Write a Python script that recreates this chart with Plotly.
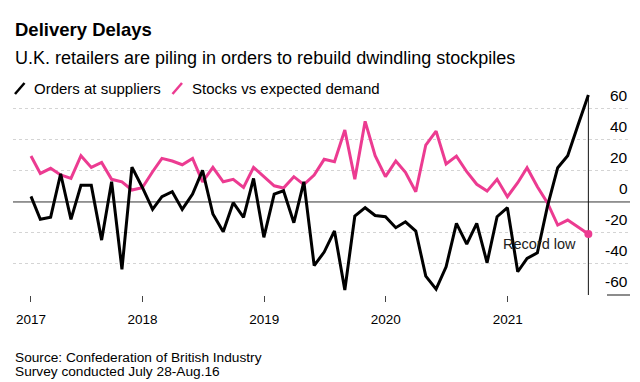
import pandas as pd
import plotly.graph_objects as go

# ---- data (monthly CBI balances, Jan 2017 - Aug 2021) ----
dates = pd.date_range("2017-01-31", periods=56, freq="ME")

orders_at_suppliers = [
    3.6, -11.2, -9.8, 18.2, -11.2, 10.7, 10.7, -24.6, 13, -43.4, 22.5, 9.5,
    -4.8, 3.4, 6.6, -4.8, 5.1, 20.4, -7.8, -19.2, -0.5, -9.9, 15.2, -22.8,
    5.1, 7.2, -13.4, 13, -41, -32.3, -18.7, -56.8, -9.1, -3.7, -8.7, -9.5,
    -16.6, -12.8, -18.8, -47.8, -56.2, -41.8, -13.8, -27.2, -13.8, -39.2, -9.5, -3.7,
    -45, -36.4, -32.8, -3, 22.1, 29.8, 49.6, 69,
]
stocks_vs_demand = [
    29.6, 18.4, 21.7, 17.4, 15.2, 29.8, 22.3, 25.5, 14.6, 13, 7.7, 9.2,
    19.5, 28.1, 26.4, 24, 28.1, 13, 22.3, 13, 14.6, 9.3, 22.3, 16.1,
    10.4, 9, 16.3, 11.2, 17.4, 27.5, 25.9, 46.4, 14.7, 52, 29.8, 16.3,
    26.4, 19.1, 6.6, 36.7, 45.7, 24.5, 29.6, 19.5, 11.4, 7, 14.6, 3.4,
    12.4, 22.1, 9.8, -0.5, -14.9, -11.7, -16.4, -20.7,
]
grid_values = [-40, -20, 20, 40, 60]
label_values = [60, 40, 20, 0, -20, -40, -60]
tick_dates = [dates[0], pd.Timestamp("2018-01-01"), pd.Timestamp("2019-01-01"),
              pd.Timestamp("2020-01-01"), pd.Timestamp("2021-01-01")]
tick_labels = ["2017", "2018", "2019", "2020", "2021"]

BLACK = "#000000"
PINK = "#ec3b91"
FONT = "Liberation Sans, Arial, Helvetica, sans-serif"

# ---- layout geometry (screen pixels; page body adds an 8px offset) ----
OFF = 8
WIDTH, HEIGHT = 640 - OFF, 382 - OFF
L, R, T, B = 13 - OFF, 630 - OFF, 90 - OFF, 295 - OFF
PW, PH = R - L, B - T


def px_x(px):
    return (px - OFF - L) / PW


def px_y(py):
    return (B - (py - OFF)) / PH


fig = go.Figure()
fig.add_trace(go.Scatter(x=dates, y=stocks_vs_demand, mode="lines",
                         name="Stocks vs expected demand",
                         line=dict(color=PINK, width=3), showlegend=False))
fig.add_trace(go.Scatter(x=dates, y=orders_at_suppliers, mode="lines",
                         name="Orders at suppliers",
                         line=dict(color=BLACK, width=3), showlegend=False))
fig.add_trace(go.Scatter(x=[dates[-1]], y=[stocks_vs_demand[-1]], mode="markers",
                         marker=dict(color=PINK, size=8), showlegend=False,
                         hoverinfo="skip"))

x0 = dates[0] - pd.Timedelta(days=54)
x1 = dates[-1] + pd.Timedelta(days=125)

fig.update_layout(
    width=WIDTH, height=HEIGHT,
    margin=dict(l=L, r=WIDTH - R, t=T, b=HEIGHT - B, pad=0),
    paper_bgcolor="white", plot_bgcolor="white",
    font=dict(family=FONT, color="#000"),
    xaxis=dict(range=[x0, x1], tickvals=tick_dates, ticktext=tick_labels,
               ticks="outside", ticklen=6, tickwidth=1, tickcolor="#444",
               showgrid=False, zeroline=False, showline=False,
               tickfont=dict(size=13.5, color="#000"), ticklabelstandoff=6),
    yaxis=dict(range=[-60, 72.2], tickvals=grid_values, showticklabels=False,
               showgrid=True, gridcolor="#d4d4d4", griddash="dot", gridwidth=1,
               zeroline=False, showline=False, ticks=""),
)

shapes = []
# zero baseline
shapes.append(dict(type="line", xref="paper", yref="y", x0=0, x1=1, y0=0, y1=0,
                   line=dict(color="#333", width=1), layer="below"))
# -60 stub under its label
shapes.append(dict(type="line", xref="paper", yref="paper", x0=px_x(607), x1=1,
                   y0=0, y1=0, line=dict(color="#666", width=1.5)))
# vertical marker at latest reading
shapes.append(dict(type="line", xref="x", yref="y", x0=dates[-1], x1=dates[-1],
                   y0=-60, y1=orders_at_suppliers[-1],
                   line=dict(color="#111", width=1), layer="below"))
# legend swatches
shapes.append(dict(type="line", xref="paper", yref="paper",
                   x0=px_x(15), x1=px_x(24.5), y0=px_y(94), y1=px_y(83),
                   line=dict(color=BLACK, width=2.5)))
shapes.append(dict(type="line", xref="paper", yref="paper",
                   x0=px_x(172.5), x1=px_x(182), y0=px_y(94), y1=px_y(83),
                   line=dict(color=PINK, width=2.5)))
fig.update_layout(shapes=shapes)

ann = []
# y-axis labels sitting above their gridlines
for v in label_values:
    ann.append(dict(x=1, xref="paper", y=v, yref="y", text=str(v), showarrow=False,
                    xanchor="right", yanchor="middle", yshift=13.5,
                    font=dict(size=15.5, color="#000", family=FONT)))
# title block
ann.append(dict(x=px_x(12.5), xref="paper", y=px_y(30), yref="paper",
                text="<b>Delivery Delays</b>", showarrow=False,
                xanchor="left", yanchor="middle",
                font=dict(size=18.5, color="#000", family=FONT)))
ann.append(dict(x=px_x(12.5), xref="paper", y=px_y(58), yref="paper",
                text="U.K. retailers are piling in orders to rebuild dwindling stockpiles",
                showarrow=False, xanchor="left", yanchor="middle",
                font=dict(size=18, color="#000", family=FONT)))
# legend text
ann.append(dict(x=px_x(32), xref="paper", y=px_y(88), yref="paper",
                text="Orders at suppliers", showarrow=False,
                xanchor="left", yanchor="middle",
                font=dict(size=15, color="#000", family=FONT)))
ann.append(dict(x=px_x(189.5), xref="paper", y=px_y(88), yref="paper",
                text="Stocks vs expected demand", showarrow=False,
                xanchor="left", yanchor="middle",
                font=dict(size=15, color="#000", family=FONT)))
# record-low callout
ann.append(dict(x=px_x(577.5), xref="paper", y=-27.3, yref="y",
                text="Record low", showarrow=False,
                xanchor="right", yanchor="middle",
                font=dict(size=14.5, color="#222", family=FONT)))
# source notes
ann.append(dict(x=px_x(13), xref="paper", y=px_y(357), yref="paper",
                text="Source: Confederation of British Industry", showarrow=False,
                xanchor="left", yanchor="middle",
                font=dict(size=13.7, color="#000", family=FONT)))
ann.append(dict(x=px_x(13), xref="paper", y=px_y(371), yref="paper",
                text="Survey conducted July 28-Aug.16", showarrow=False,
                xanchor="left", yanchor="middle",
                font=dict(size=13.7, color="#000", family=FONT)))
fig.update_layout(annotations=ann)

fig.write_html("out.html")
